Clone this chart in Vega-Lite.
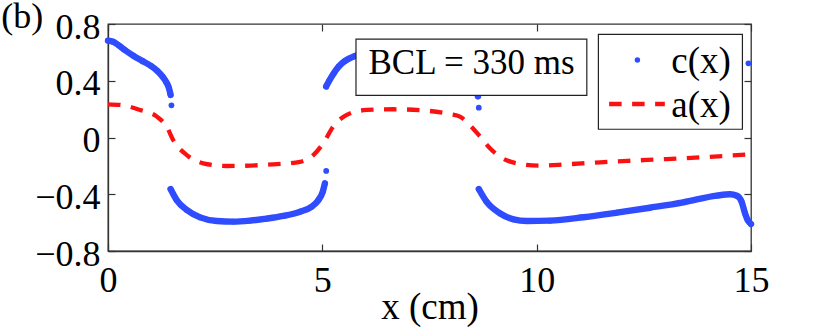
{
  "$schema": "https://vega.github.io/schema/vega-lite/v6.json",
  "width": 643,
  "height": 227,
  "autosize": {"type": "none"},
  "padding": {"left": 108, "top": 24, "right": 79, "bottom": 82},
  "background": "white",
  "config": {
    "view": {"stroke": "#333", "strokeWidth": 1.3},
    "axis": {"grid": false, "labelFont": "Liberation Serif", "labelFontSize": 36, "labelColor": "black", "titleFont": "Liberation Serif", "titleFontSize": 37, "titleFontWeight": "normal", "titleColor": "black", "domainColor": "#333", "domainWidth": 1.3, "tickColor": "#333", "tickWidth": 1.2, "tickSize": -7, "labelOverlap": false, "labelFlush": false}
  },
  "datasets": {
    "ax": [
      {"x": 0, "y": 0.234}, {"x": 0.3, "y": 0.229}, {"x": 0.75, "y": 0.194}, {"x": 1.14, "y": 0.147},
      {"x": 1.37, "y": 0.076}, {"x": 1.52, "y": -0.018}, {"x": 1.84, "y": -0.124}, {"x": 2.22, "y": -0.182},
      {"x": 2.77, "y": -0.201}, {"x": 3.7, "y": -0.192}, {"x": 4.48, "y": -0.171}, {"x": 4.79, "y": -0.124},
      {"x": 5.02, "y": -0.041}, {"x": 5.25, "y": 0.076}, {"x": 5.57, "y": 0.159}, {"x": 6.03, "y": 0.194},
      {"x": 6.65, "y": 0.199}, {"x": 7.3, "y": 0.192}, {"x": 7.98, "y": 0.165}, {"x": 8.21, "y": 0.147},
      {"x": 8.44, "y": 0.088}, {"x": 8.68, "y": 0.006}, {"x": 8.91, "y": -0.076}, {"x": 9.14, "y": -0.135},
      {"x": 9.53, "y": -0.182}, {"x": 10.08, "y": -0.199}, {"x": 10.7, "y": -0.189}, {"x": 11.48, "y": -0.175},
      {"x": 12.25, "y": -0.163}, {"x": 13.03, "y": -0.152}, {"x": 13.81, "y": -0.14}, {"x": 15.0, "y": -0.118}
    ],
    "cx": [
      {"x": 0.0, "y": 0.683, "seg": "s1"}, {"x": 0.12, "y": 0.675, "seg": "s1"}, {"x": 0.25, "y": 0.65, "seg": "s1"},
      {"x": 0.4, "y": 0.615, "seg": "s1"}, {"x": 0.6, "y": 0.575, "seg": "s1"}, {"x": 0.8, "y": 0.54, "seg": "s1"},
      {"x": 1.0, "y": 0.505, "seg": "s1"}, {"x": 1.15, "y": 0.47, "seg": "s1"}, {"x": 1.27, "y": 0.43, "seg": "s1"},
      {"x": 1.36, "y": 0.39, "seg": "s1"}, {"x": 1.42, "y": 0.35, "seg": "s1"}, {"x": 1.45, "y": 0.315, "seg": "s1"},
      {"x": 1.46, "y": 0.3, "seg": "s1"},
      {"x": 1.48, "y": 0.227, "seg": "iso"},
      {"x": 1.46, "y": -0.363, "seg": "s2"}, {"x": 1.6, "y": -0.44, "seg": "s2"}, {"x": 1.84, "y": -0.511, "seg": "s2"},
      {"x": 2.15, "y": -0.563, "seg": "s2"}, {"x": 2.54, "y": -0.589, "seg": "s2"}, {"x": 2.92, "y": -0.593, "seg": "s2"},
      {"x": 3.31, "y": -0.586, "seg": "s2"}, {"x": 3.7, "y": -0.572, "seg": "s2"}, {"x": 4.09, "y": -0.553, "seg": "s2"},
      {"x": 4.48, "y": -0.523, "seg": "s2"}, {"x": 4.75, "y": -0.488, "seg": "s2"}, {"x": 4.91, "y": -0.44, "seg": "s2"},
      {"x": 5.01, "y": -0.382, "seg": "s2"}, {"x": 5.06, "y": -0.323, "seg": "s2"},
      {"x": 5.09, "y": -0.236, "seg": "iso"},
      {"x": 5.09, "y": 0.36, "seg": "s3"}, {"x": 5.16, "y": 0.4, "seg": "s3"}, {"x": 5.26, "y": 0.45, "seg": "s3"},
      {"x": 5.38, "y": 0.5, "seg": "s3"}, {"x": 5.53, "y": 0.54, "seg": "s3"}, {"x": 5.76, "y": 0.575, "seg": "s3"},
      {"x": 6.2, "y": 0.6, "seg": "s3"}, {"x": 7.0, "y": 0.61, "seg": "s3"}, {"x": 7.8, "y": 0.58, "seg": "s3"},
      {"x": 8.3, "y": 0.5, "seg": "s3"}, {"x": 8.5, "y": 0.42, "seg": "s3"}, {"x": 8.63, "y": 0.29, "seg": "s3"},
      {"x": 8.65, "y": 0.21, "seg": "iso"},
      {"x": 8.65, "y": -0.363, "seg": "s4"}, {"x": 8.83, "y": -0.452, "seg": "s4"}, {"x": 9.14, "y": -0.534, "seg": "s4"},
      {"x": 9.46, "y": -0.577, "seg": "s4"}, {"x": 9.77, "y": -0.589, "seg": "s4"}, {"x": 10.31, "y": -0.586, "seg": "s4"},
      {"x": 11.09, "y": -0.562, "seg": "s4"}, {"x": 11.87, "y": -0.53, "seg": "s4"}, {"x": 12.64, "y": -0.495, "seg": "s4"},
      {"x": 13.42, "y": -0.457, "seg": "s4"}, {"x": 14.2, "y": -0.41, "seg": "s4"}, {"x": 14.51, "y": -0.4, "seg": "s4"},
      {"x": 14.67, "y": -0.41, "seg": "s4"}, {"x": 14.78, "y": -0.452, "seg": "s4"}, {"x": 14.86, "y": -0.534, "seg": "s4"},
      {"x": 14.92, "y": -0.581, "seg": "s4"}, {"x": 15.0, "y": -0.61, "seg": "s4"},
      {"x": 14.94, "y": 0.523, "seg": "iso"}
    ],
    "panel": [{"label": "(b)", "tx": -2.0, "ty": 0.77}],
    "bclbox": [{"x": 5.785, "x2": 11.17, "y": 0.694, "y2": 0.297, "label": "BCL = 330 ms", "tx": 8.48, "ty": 0.445}],
    "legbox": [{"x": 11.44, "x2": 14.8, "y": 0.727, "y2": 0.058}],
    "legc": [{"x": 12.35, "y": 0.546, "label": "c(x)", "tx": 14.53, "ty": 0.452}],
    "lega": [{"x": 11.69, "x2": 12.99, "y": 0.236, "label": "a(x)", "tx": 14.53, "ty": 0.147}]
  },
  "layer": [
    {
      "data": {"name": "ax"},
      "mark": {"type": "line", "color": "#fa1212", "strokeWidth": 4.3, "strokeDash": [12.5, 10.5], "interpolate": "monotone"},
      "encoding": {
        "x": {"field": "x", "type": "quantitative", "scale": {"domain": [0, 15], "nice": false},
              "axis": {"orient": "bottom", "values": [0, 5, 10, 15], "title": "x (cm)", "labelPadding": 19, "titlePadding": -9, "domain": true}},
        "y": {"field": "y", "type": "quantitative", "scale": {"domain": [-0.8, 0.8], "nice": false},
              "axis": {"orient": "left", "values": [-0.8, -0.4, 0, 0.4, 0.8], "format": "~g", "title": null, "labelPadding": 15, "labelOffset": 3, "domain": true}}
      }
    },
    {
      "data": {"name": "cx"},
      "transform": [{"filter": "datum.seg !== 'iso'"}],
      "mark": {"type": "line", "color": "#2f4cff", "strokeWidth": 6.4, "strokeCap": "round", "strokeJoin": "round", "interpolate": "monotone"},
      "encoding": {
        "x": {"field": "x", "type": "quantitative", "scale": {"domain": [0, 15], "nice": false},
              "axis": {"orient": "top", "values": [0, 5, 10, 15], "labels": false, "title": null, "domain": false}},
        "y": {"field": "y", "type": "quantitative", "scale": {"domain": [-0.8, 0.8], "nice": false},
              "axis": {"orient": "right", "values": [-0.8, -0.4, 0, 0.4, 0.8], "labels": false, "title": null, "domain": false}},
        "detail": {"field": "seg"}
      }
    },
    {
      "data": {"name": "cx"},
      "mark": {"type": "point", "filled": true, "color": "#2f4cff", "size": 33, "opacity": 1},
      "encoding": {
        "x": {"field": "x", "type": "quantitative", "scale": {"domain": [0, 15], "nice": false}, "axis": null},
        "y": {"field": "y", "type": "quantitative", "scale": {"domain": [-0.8, 0.8], "nice": false}, "axis": null}
      }
    },
    {
      "data": {"name": "panel"},
      "mark": {"type": "text", "font": "Liberation Serif", "fontSize": 36, "align": "center", "baseline": "alphabetic", "color": "black", "clip": false},
      "encoding": {
        "x": {"field": "tx", "type": "quantitative", "scale": {"domain": [0, 15], "nice": false}, "axis": null},
        "y": {"field": "ty", "type": "quantitative", "scale": {"domain": [-0.8, 0.8], "nice": false}, "axis": null},
        "text": {"field": "label"}
      }
    },
    {
      "data": {"name": "bclbox"},
      "mark": {"type": "rect", "fill": "white", "stroke": "#222", "strokeWidth": 1.2},
      "encoding": {
        "x": {"field": "x", "type": "quantitative", "scale": {"domain": [0, 15], "nice": false}, "axis": null},
        "x2": {"field": "x2"},
        "y": {"field": "y", "type": "quantitative", "scale": {"domain": [-0.8, 0.8], "nice": false}, "axis": null},
        "y2": {"field": "y2"}
      }
    },
    {
      "data": {"name": "bclbox"},
      "mark": {"type": "text", "font": "Liberation Serif", "fontSize": 35, "align": "center", "baseline": "alphabetic", "color": "black"},
      "encoding": {
        "x": {"field": "tx", "type": "quantitative", "scale": {"domain": [0, 15], "nice": false}, "axis": null},
        "y": {"field": "ty", "type": "quantitative", "scale": {"domain": [-0.8, 0.8], "nice": false}, "axis": null},
        "text": {"field": "label"}
      }
    },
    {
      "data": {"name": "legbox"},
      "mark": {"type": "rect", "fill": "white", "stroke": "#222", "strokeWidth": 1.2},
      "encoding": {
        "x": {"field": "x", "type": "quantitative", "scale": {"domain": [0, 15], "nice": false}, "axis": null},
        "x2": {"field": "x2"},
        "y": {"field": "y", "type": "quantitative", "scale": {"domain": [-0.8, 0.8], "nice": false}, "axis": null},
        "y2": {"field": "y2"}
      }
    },
    {
      "data": {"name": "legc"},
      "mark": {"type": "point", "filled": true, "color": "#2f4cff", "size": 30, "opacity": 1},
      "encoding": {
        "x": {"field": "x", "type": "quantitative", "scale": {"domain": [0, 15], "nice": false}, "axis": null},
        "y": {"field": "y", "type": "quantitative", "scale": {"domain": [-0.8, 0.8], "nice": false}, "axis": null}
      }
    },
    {
      "data": {"name": "legc"},
      "mark": {"type": "text", "font": "Liberation Serif", "fontSize": 37, "align": "right", "baseline": "alphabetic", "color": "black"},
      "encoding": {
        "x": {"field": "tx", "type": "quantitative", "scale": {"domain": [0, 15], "nice": false}, "axis": null},
        "y": {"field": "ty", "type": "quantitative", "scale": {"domain": [-0.8, 0.8], "nice": false}, "axis": null},
        "text": {"field": "label"}
      }
    },
    {
      "data": {"name": "lega"},
      "mark": {"type": "rule", "color": "#fa1212", "strokeWidth": 4.3, "strokeDash": [12.5, 10.5]},
      "encoding": {
        "x": {"field": "x", "type": "quantitative", "scale": {"domain": [0, 15], "nice": false}, "axis": null},
        "x2": {"field": "x2"},
        "y": {"field": "y", "type": "quantitative", "scale": {"domain": [-0.8, 0.8], "nice": false}, "axis": null}
      }
    },
    {
      "data": {"name": "lega"},
      "mark": {"type": "text", "font": "Liberation Serif", "fontSize": 37, "align": "right", "baseline": "alphabetic", "color": "black"},
      "encoding": {
        "x": {"field": "tx", "type": "quantitative", "scale": {"domain": [0, 15], "nice": false}, "axis": null},
        "y": {"field": "ty", "type": "quantitative", "scale": {"domain": [-0.8, 0.8], "nice": false}, "axis": null},
        "text": {"field": "label"}
      }
    }
  ],
  "resolve": {"axis": {"x": "independent", "y": "independent"}}
}
